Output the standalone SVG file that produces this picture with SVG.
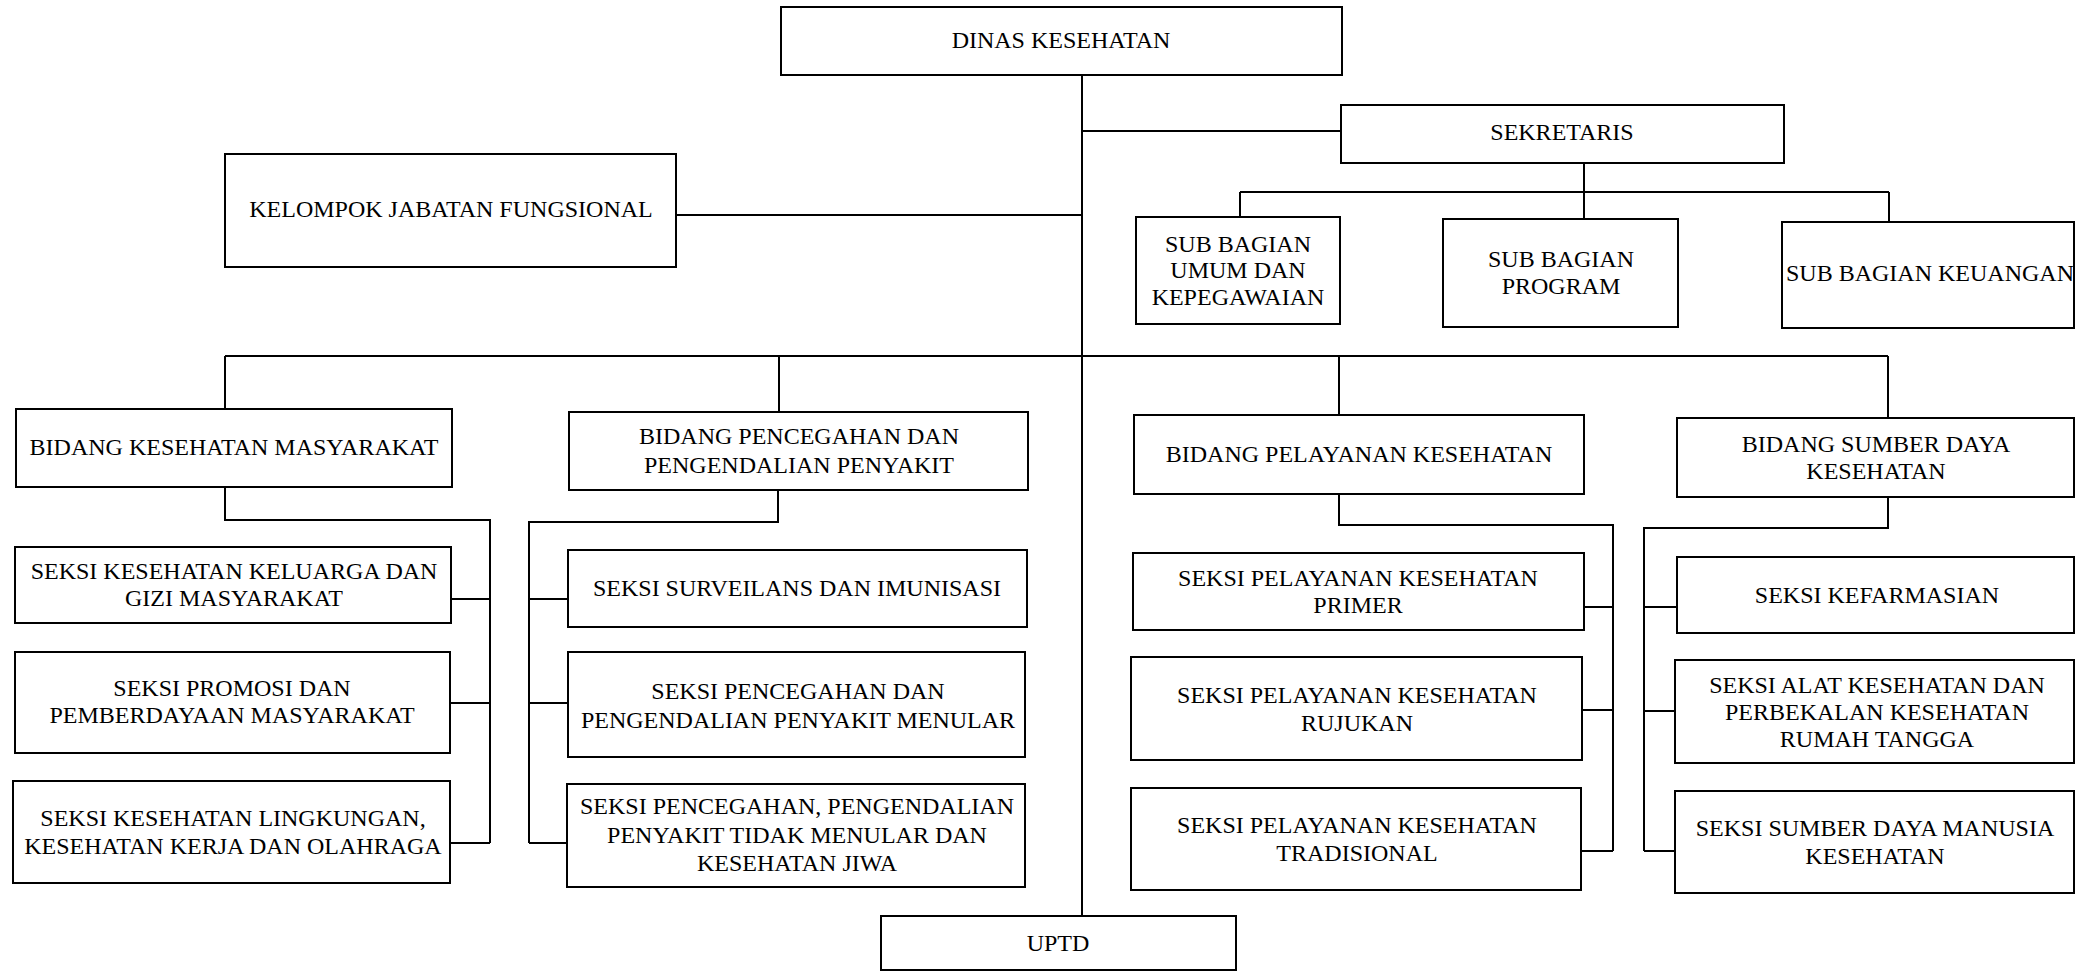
<svg xmlns="http://www.w3.org/2000/svg" width="2077" height="972" viewBox="0 0 2077 972">
<style>
  .box { fill: #ffffff; stroke: #000000; stroke-width: 2; }
  .t { font-family: "Liberation Serif", "Times New Roman", serif; font-size: 24px; fill: #000000; text-anchor: middle; }
  .c { fill: none; stroke: #000000; stroke-width: 2; }
</style>
<rect x="0" y="0" width="2077" height="972" fill="#ffffff"/>
<g id="connectors">
  <path class="c" d="M1082 75 V916"/>
  <path class="c" d="M1082 131 H1341"/>
  <path class="c" d="M676 215 H1082"/>
  <path class="c" d="M1584 163 V192 M1240 192 H1889 M1240 192 V217 M1584 192 V219 M1889 192 V222"/>
  <path class="c" d="M225 356 H1888 M225 356 V409 M779 356 V412 M1339 356 V415 M1888 356 V418"/>
  <path class="c" d="M225 487 V520 H490 V843 M451 599 H490 M450 703 H490 M450 843 H490"/>
  <path class="c" d="M778 490 V522 H529 V843 M529 599 H568 M529 703 H568 M529 843 H567"/>
  <path class="c" d="M1339 494 V525 H1613 V851 M1584 607 H1613 M1582 710 H1613 M1581 851 H1613"/>
  <path class="c" d="M1888 497 V528 H1644 V851 M1644 607 H1677 M1644 711 H1675 M1644 851 H1675"/>
</g>
<g id="dinas"><rect class="box" x="781" y="7" width="561" height="68"/><text class="t" x="1061" y="48">DINAS KESEHATAN</text></g>
<g id="sekretaris"><rect class="box" x="1341" y="105" width="443" height="58"/><text class="t" x="1562" y="140">SEKRETARIS</text></g>
<g id="kelompok"><rect class="box" x="225" y="154" width="451" height="113"/><text class="t" x="451" y="217">KELOMPOK JABATAN FUNGSIONAL</text></g>
<g id="subumum"><rect class="box" x="1136" y="217" width="204" height="107"/><text class="t" x="1238" y="252">SUB BAGIAN</text><text class="t" x="1238" y="278">UMUM DAN</text><text class="t" x="1238" y="305">KEPEGAWAIAN</text></g>
<g id="subprogram"><rect class="box" x="1443" y="219" width="235" height="108"/><text class="t" x="1561" y="267">SUB BAGIAN</text><text class="t" x="1561" y="294">PROGRAM</text></g>
<g id="subkeuangan"><rect class="box" x="1782" y="222" width="292" height="106"/><text class="t" x="1930" y="281">SUB BAGIAN KEUANGAN</text></g>
<g id="bidangkesmas"><rect class="box" x="16" y="409" width="436" height="78"/><text class="t" x="234" y="455">BIDANG KESEHATAN MASYARAKAT</text></g>
<g id="bidangp2p"><rect class="box" x="569" y="412" width="459" height="78"/><text class="t" x="799" y="444">BIDANG PENCEGAHAN DAN</text><text class="t" x="799" y="473">PENGENDALIAN PENYAKIT</text></g>
<g id="bidangyankes"><rect class="box" x="1134" y="415" width="450" height="79"/><text class="t" x="1359" y="462">BIDANG PELAYANAN KESEHATAN</text></g>
<g id="bidangsdk"><rect class="box" x="1677" y="418" width="397" height="79"/><text class="t" x="1876" y="452">BIDANG SUMBER DAYA</text><text class="t" x="1876" y="479">KESEHATAN</text></g>
<g id="seksikesga"><rect class="box" x="15" y="547" width="436" height="76"/><text class="t" x="234" y="579">SEKSI KESEHATAN KELUARGA DAN</text><text class="t" x="234" y="606">GIZI MASYARAKAT</text></g>
<g id="seksipromosi"><rect class="box" x="15" y="652" width="435" height="101"/><text class="t" x="232" y="696">SEKSI PROMOSI DAN</text><text class="t" x="232" y="723">PEMBERDAYAAN MASYARAKAT</text></g>
<g id="seksikesling"><rect class="box" x="13" y="781" width="437" height="102"/><text class="t" x="233" y="826">SEKSI KESEHATAN LINGKUNGAN,</text><text class="t" x="233" y="854">KESEHATAN KERJA DAN OLAHRAGA</text></g>
<g id="seksisurveilans"><rect class="box" x="568" y="550" width="459" height="77"/><text class="t" x="797" y="596">SEKSI SURVEILANS DAN IMUNISASI</text></g>
<g id="seksimenular"><rect class="box" x="568" y="652" width="457" height="105"/><text class="t" x="798" y="699">SEKSI PENCEGAHAN DAN</text><text class="t" x="798" y="728">PENGENDALIAN PENYAKIT MENULAR</text></g>
<g id="seksiptm"><rect class="box" x="567" y="784" width="458" height="103"/><text class="t" x="797" y="814">SEKSI PENCEGAHAN, PENGENDALIAN</text><text class="t" x="797" y="843">PENYAKIT TIDAK MENULAR DAN</text><text class="t" x="797" y="871">KESEHATAN JIWA</text></g>
<g id="seksiprimer"><rect class="box" x="1133" y="553" width="451" height="77"/><text class="t" x="1358" y="586">SEKSI PELAYANAN KESEHATAN</text><text class="t" x="1358" y="613">PRIMER</text></g>
<g id="seksirujukan"><rect class="box" x="1131" y="657" width="451" height="103"/><text class="t" x="1357" y="703">SEKSI PELAYANAN KESEHATAN</text><text class="t" x="1357" y="731">RUJUKAN</text></g>
<g id="seksitradisional"><rect class="box" x="1131" y="788" width="450" height="102"/><text class="t" x="1357" y="833">SEKSI PELAYANAN KESEHATAN</text><text class="t" x="1357" y="861">TRADISIONAL</text></g>
<g id="seksikefarmasian"><rect class="box" x="1677" y="557" width="397" height="76"/><text class="t" x="1877" y="603">SEKSI KEFARMASIAN</text></g>
<g id="seksialkes"><rect class="box" x="1675" y="660" width="399" height="103"/><text class="t" x="1877" y="693">SEKSI ALAT KESEHATAN DAN</text><text class="t" x="1877" y="720">PERBEKALAN KESEHATAN</text><text class="t" x="1877" y="747">RUMAH TANGGA</text></g>
<g id="seksisdm"><rect class="box" x="1675" y="791" width="399" height="102"/><text class="t" x="1875" y="836">SEKSI SUMBER DAYA MANUSIA</text><text class="t" x="1875" y="864">KESEHATAN</text></g>
<g id="uptd"><rect class="box" x="881" y="916" width="355" height="54"/><text class="t" x="1058" y="951">UPTD</text></g>
</svg>
